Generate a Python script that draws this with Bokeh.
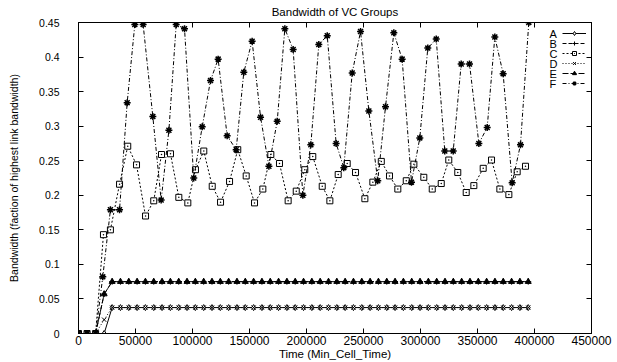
from bokeh.plotting import figure
from bokeh.models import LinearAxis, FixedTicker, Range1d, Legend, LegendItem, Label
from bokeh.embed import file_html
from bokeh.resources import INLINE

# ---------------- data ----------------
title_text = "Bandwidth of VC Groups"
x_label = "Time (Min_Cell_Time)"
y_label = "Bandwidth (faction of highest link bandwidth)"

x_ticks = [0, 50000, 100000, 150000, 200000, 250000, 300000, 350000, 400000, 450000]
x_tick_labels = ["0", "50000", "100000", "150000", "200000", "250000",
                 "300000", "350000", "400000", "450000"]
y_ticks = [0, 0.05, 0.1, 0.15, 0.2, 0.25, 0.3, 0.35, 0.4, 0.45]
y_tick_labels = ["0", "0.05", "0.1", "0.15", "0.2", "0.25", "0.3", "0.35", "0.4", "0.45"]

series_names = ["A", "B", "C", "D", "E", "F"]

# sample times of the flat groups (A, B, D, E)
T_flat = [0, 7500, 15000, 22500, 29500, 36800, 44100, 51400, 58700, 66000,
          73300, 80600, 87900, 95200, 102500, 109800, 117100, 124400, 131700, 139000,
          146300, 153600, 160900, 168200, 175500, 182800, 190100, 197400, 204700, 212000,
          219300, 226600, 233900, 241200, 248500, 255800, 263100, 270400, 277700, 285000,
          292300, 299600, 306900, 314200, 321500, 328800, 336100, 343400, 350700, 358000,
          365300, 372600, 379900, 387200, 394500]

A_y = [0, 0, 0, 0, 0.0375, 0.0375, 0.0375, 0.0375, 0.0375, 0.0375,
       0.0375, 0.0375, 0.0375, 0.0375, 0.0375, 0.0375, 0.0375, 0.0375, 0.0375, 0.0375,
       0.0375, 0.0375, 0.0375, 0.0375, 0.0375, 0.0375, 0.0375, 0.0375, 0.0375, 0.0375,
       0.0375, 0.0375, 0.0375, 0.0375, 0.0375, 0.0375, 0.0375, 0.0375, 0.0375, 0.0375,
       0.0375, 0.0375, 0.0375, 0.0375, 0.0375, 0.0375, 0.0375, 0.0375, 0.0375, 0.0375,
       0.0375, 0.0375, 0.0375, 0.0375, 0.0375]
D_y = [0, 0, 0, 0.02, 0.0375, 0.0375, 0.0375, 0.0375, 0.0375, 0.0375,
       0.0375, 0.0375, 0.0375, 0.0375, 0.0375, 0.0375, 0.0375, 0.0375, 0.0375, 0.0375,
       0.0375, 0.0375, 0.0375, 0.0375, 0.0375, 0.0375, 0.0375, 0.0375, 0.0375, 0.0375,
       0.0375, 0.0375, 0.0375, 0.0375, 0.0375, 0.0375, 0.0375, 0.0375, 0.0375, 0.0375,
       0.0375, 0.0375, 0.0375, 0.0375, 0.0375, 0.0375, 0.0375, 0.0375, 0.0375, 0.0375,
       0.0375, 0.0375, 0.0375, 0.0375, 0.0375]
B_y = [0, 0, 0, 0.057, 0.075, 0.075, 0.075, 0.075, 0.075, 0.075,
       0.075, 0.075, 0.075, 0.075, 0.075, 0.075, 0.075, 0.075, 0.075, 0.075,
       0.075, 0.075, 0.075, 0.075, 0.075, 0.075, 0.075, 0.075, 0.075, 0.075,
       0.075, 0.075, 0.075, 0.075, 0.075, 0.075, 0.075, 0.075, 0.075, 0.075,
       0.075, 0.075, 0.075, 0.075, 0.075, 0.075, 0.075, 0.075, 0.075, 0.075,
       0.075, 0.075, 0.075, 0.075, 0.075]
E_y = [0, 0, 0, 0.057, 0.075, 0.075, 0.075, 0.075, 0.075, 0.075,
       0.075, 0.075, 0.075, 0.075, 0.075, 0.075, 0.075, 0.075, 0.075, 0.075,
       0.075, 0.075, 0.075, 0.075, 0.075, 0.075, 0.075, 0.075, 0.075, 0.075,
       0.075, 0.075, 0.075, 0.075, 0.075, 0.075, 0.075, 0.075, 0.075, 0.075,
       0.075, 0.075, 0.075, 0.075, 0.075, 0.075, 0.075, 0.075, 0.075, 0.075,
       0.075, 0.075, 0.075, 0.075, 0.075]

C_x = [0, 7500, 15000, 21900, 28000, 36000, 43200, 50900, 58800, 66000,
       72800, 80700, 88000, 95900, 102600, 109900, 117300, 124600, 132500, 139700,
       147100, 154400, 161700, 168700, 176300, 183900, 191000, 198500, 205500, 213800,
       220500, 227800, 235700, 243000, 251200, 258200, 265600, 272800, 280100, 287500,
       294200, 302900, 310300, 318200, 324800, 332700, 340100, 346800, 355000, 362300,
       369600, 377500, 384800, 392100]
C_y = [0, 0, 0, 0.143, 0.150, 0.216, 0.271, 0.244, 0.170, 0.192,
       0.259, 0.260, 0.197, 0.189, 0.237, 0.264, 0.213, 0.190, 0.220, 0.266,
       0.228, 0.189, 0.209, 0.259, 0.246, 0.192, 0.206, 0.237, 0.256, 0.213,
       0.192, 0.230, 0.246, 0.233, 0.195, 0.219, 0.249, 0.228, 0.209, 0.221,
       0.245, 0.226, 0.209, 0.217, 0.251, 0.233, 0.204, 0.214, 0.239, 0.251,
       0.209, 0.201, 0.234, 0.242]

F_x = [0, 7500, 15000, 21300, 28000, 36000, 42700, 49400, 56700, 65200,
       72500, 79300, 85700, 93000, 101100, 108500, 115800, 122500, 130400, 138300,
       145000, 152300, 159700, 167000, 174300, 181000, 188300, 196800, 203800, 210800,
       218200, 226000, 232700, 240100, 247400, 254700, 262500, 269300, 276600, 283900,
       292100, 299400, 306400, 313800, 321300, 328700, 335700, 343000, 351200, 358500,
       365200, 372500, 380400, 387700, 395000]
F_y = [0, 0, 0, 0.082, 0.179, 0.179, 0.334, 0.447, 0.447, 0.314,
       0.193, 0.294, 0.447, 0.441, 0.225, 0.299, 0.366, 0.397, 0.286, 0.266,
       0.378, 0.423, 0.313, 0.242, 0.307, 0.441, 0.411, 0.200, 0.273, 0.418,
       0.431, 0.275, 0.240, 0.377, 0.437, 0.322, 0.221, 0.328, 0.435, 0.397,
       0.219, 0.283, 0.413, 0.426, 0.264, 0.264, 0.390, 0.390, 0.275, 0.298,
       0.429, 0.376, 0.218, 0.273, 0.450]

# ---------------- figure ----------------
FONT = "Liberation Sans"
FRAME_H = 311

p = figure(width=617, height=362, output_backend="svg", toolbar_location=None,
           title=None,
           x_range=Range1d(0, 450000), y_range=Range1d(0, 0.45),
           min_border_left=78, min_border_right=26, min_border_top=22, min_border_bottom=29)
p.background_fill_color = "white"
p.border_fill_color = "white"
p.outline_line_color = "black"
p.outline_line_width = 1
p.xgrid.visible = False
p.ygrid.visible = False

def style_axis(ax, ticks, labels, size="10.5px"):
    ax.ticker = FixedTicker(ticks=ticks)
    ax.major_label_overrides = dict(zip(ticks, labels))
    ax.major_tick_in = 5
    ax.major_tick_out = 0
    ax.minor_tick_in = 0
    ax.minor_tick_out = 0
    ax.axis_line_color = "black"
    ax.major_tick_line_color = "black"
    ax.major_label_text_font = FONT
    ax.major_label_text_font_size = size
    ax.major_label_text_color = "black"
    ax.axis_label_text_font = FONT
    ax.axis_label_text_font_size = "11.5px"
    ax.axis_label_text_font_style = "normal"
    ax.axis_label_text_color = "black"

xa = p.xaxis[0]
style_axis(xa, x_ticks, x_tick_labels, "12px")
xa.axis_label = x_label
xa.major_label_standoff = 2
xa.axis_label_standoff = 0

ya = p.yaxis[0]
style_axis(ya, y_ticks, y_tick_labels, "10.5px")
ya.axis_label = y_label
ya.axis_label_text_font_size = "10.5px"
ya.major_label_standoff = 19
ya.axis_label_standoff = 16

# mirrored ticks on top (carrying the chart title, centred over the frame) and right
top_ax = LinearAxis()
style_axis(top_ax, x_ticks, ["" for _ in x_ticks], "1px")
top_ax.major_label_standoff = 0
top_ax.axis_label = title_text
top_ax.axis_label_standoff = 5
p.add_layout(top_ax, "above")
right_ax = LinearAxis()
style_axis(right_ax, y_ticks, ["" for _ in y_ticks], "1px")
right_ax.major_label_standoff = 0
p.add_layout(right_ax, "right")

styles = {
    "A": dict(dash="solid", marker="diamond", size=6, fill="white"),
    "B": dict(dash="4 2", marker="cross", size=6, fill="white"),
    "C": dict(dash="2 2", marker="square_dot", size=6, fill="white"),
    "D": dict(dash="1 2", marker="x", size=6, fill="white"),
    "E": dict(dash="6 2", marker="triangle", size=6, fill="black"),
    "F": dict(dash="4 2 1 2", marker="asterisk", size=7, fill="black"),
}
data = {"A": (T_flat, A_y), "B": (T_flat, B_y), "C": (C_x, C_y),
        "D": (T_flat, D_y), "E": (T_flat, E_y), "F": (F_x, F_y)}

ROW = 10
LEG_TOP = 6          # legend top, px below frame top
items = []
for i, name in enumerate(series_names):
    xs, ys = data[name]
    st = styles[name]
    lr = p.line(xs, ys, line_color="black", line_width=1, line_dash=st["dash"])
    sr = p.scatter(xs, ys, marker=st["marker"], size=st["size"], line_color="black",
                   fill_color=st["fill"], line_width=1.5 if name == "F" else 1)
    items.append(LegendItem(label="", renderers=[lr, sr]))
    # legend letter drawn to the left of its sample, gnuplot style
    p.add_layout(Label(x=471, y=FRAME_H - LEG_TOP - ROW * i - ROW / 2,
                       x_units="screen", y_units="screen", text=name,
                       text_font=FONT, text_font_size="11px", text_color="black",
                       text_baseline="middle", text_align="left"))

legend = Legend(items=items, location=(484, FRAME_H - LEG_TOP - ROW * len(series_names)),
                orientation="vertical",
                glyph_width=24, glyph_height=ROW, label_height=ROW, label_width=0,
                spacing=0, padding=0, margin=0, label_standoff=0,
                label_text_font=FONT, label_text_font_size="5px",
                background_fill_alpha=0, border_line_color=None)
p.add_layout(legend)

open("out.html", "w").write(file_html(p, INLINE))
